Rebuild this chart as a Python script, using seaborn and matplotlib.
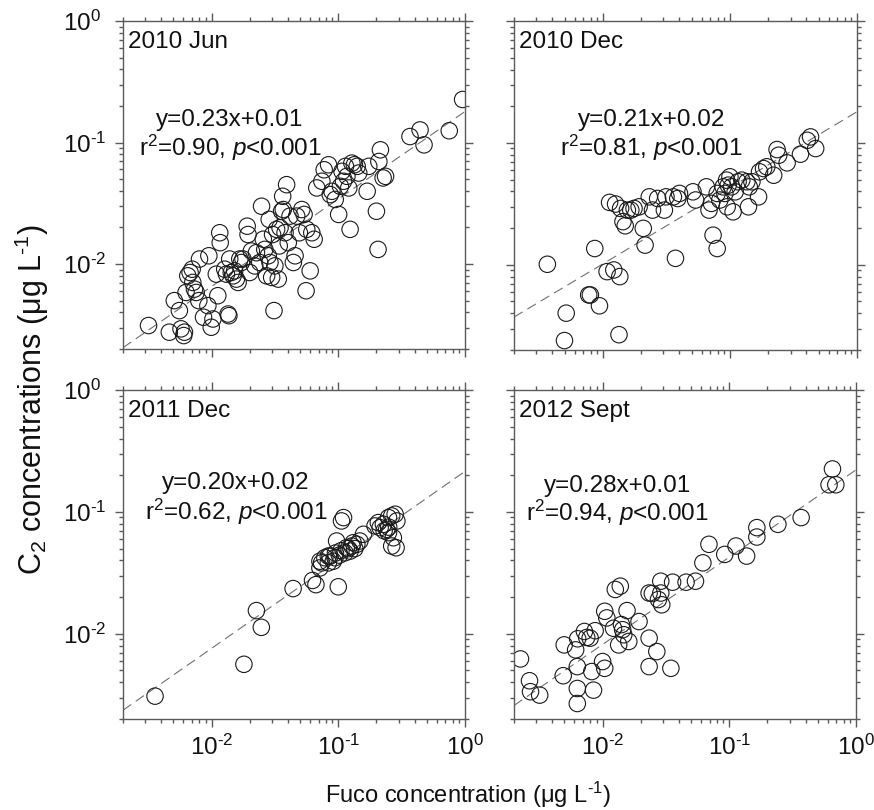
import numpy as np
import pandas as pd
import matplotlib
matplotlib.use("Agg")
import matplotlib.pyplot as plt
import matplotlib.ticker as mticker
import seaborn as sns

# ---------------- data ----------------
panel_titles = ["2010 Jun", "2010 Dec", "2011 Dec", "2012 Sept"]
eq_lines = ["y=0.23x+0.01", "y=0.21x+0.02", "y=0.20x+0.02", "y=0.28x+0.01"]
r2_vals = ["0.90", "0.81", "0.62", "0.94"]

jun10_fuco = [0.00318, 0.00464, 0.00508, 0.00557, 0.00574, 0.00603, 0.00611, 0.00629, 0.00649, 0.00677,
              0.00703, 0.00711, 0.00733, 0.00756, 0.00793, 0.00803, 0.00864, 0.00935, 0.00952, 0.00994,
              0.01025, 0.0109, 0.0112, 0.0116, 0.0117, 0.0127, 0.0131, 0.0135, 0.0137, 0.0139,
              0.0143, 0.0148, 0.0152, 0.0157, 0.0162, 0.0167, 0.0172, 0.0177, 0.0191, 0.0194,
              0.0200, 0.0206, 0.0219, 0.0226, 0.0240, 0.0248, 0.0256, 0.0263, 0.0272, 0.0280,
              0.0285, 0.0289, 0.0298, 0.0303, 0.0311, 0.0316, 0.0326, 0.0336, 0.0342, 0.0347,
              0.0357, 0.0364, 0.0368, 0.0380, 0.0391, 0.0403, 0.0416, 0.0442, 0.0456, 0.0470,
              0.0493, 0.0515, 0.0537, 0.0557, 0.0564, 0.0600, 0.0618, 0.0645, 0.0677, 0.0742,
              0.0774, 0.0838, 0.0864, 0.0891, 0.0946, 0.1007, 0.104, 0.107, 0.110, 0.114,
              0.117, 0.121, 0.124, 0.128, 0.134, 0.141, 0.145, 0.169, 0.174, 0.200,
              0.206, 0.209, 0.215, 0.226, 0.236, 0.368, 0.442, 0.475, 0.751, 0.958]
jun10_c2 = [0.00312, 0.00275, 0.00500, 0.00414, 0.00293, 0.00258, 0.00275, 0.00584, 0.00800, 0.00852,
            0.00907, 0.00706, 0.00622, 0.00584, 0.00500, 0.0110, 0.00365, 0.00455, 0.0117, 0.00302,
            0.00353, 0.00826, 0.00549, 0.0181, 0.0150, 0.00907, 0.00826, 0.00388, 0.00376, 0.0110,
            0.00852, 0.00800, 0.00879, 0.00752, 0.00706, 0.0110, 0.0103, 0.0110, 0.0205, 0.0175,
            0.00852, 0.0128, 0.00966, 0.0124, 0.0103, 0.0299, 0.0160, 0.0132, 0.00800, 0.0117,
            0.0233, 0.0103, 0.00776, 0.0175, 0.00414, 0.00966, 0.0193, 0.00752, 0.0141, 0.0199,
            0.0272, 0.0361, 0.0281, 0.0181, 0.0450, 0.0150, 0.0248, 0.0103, 0.0117, 0.0248,
            0.0181, 0.0281, 0.0256, 0.00603, 0.0193, 0.00879, 0.0181, 0.0160, 0.0423, 0.0480,
            0.0597, 0.0656, 0.0373, 0.0397, 0.0340, 0.0256, 0.0436, 0.0579, 0.0480, 0.0637,
            0.0527, 0.0423, 0.0193, 0.0677, 0.0656, 0.0637, 0.0561, 0.0397, 0.0637, 0.0272,
            0.0132, 0.0698, 0.0871, 0.0511, 0.0527, 0.112, 0.127, 0.0957, 0.125, 0.226]

dec10_fuco = [0.00366, 0.00499, 0.00515, 0.00774, 0.00798, 0.00864, 0.00941, 0.0108, 0.0113, 0.0122,
              0.0126, 0.0134, 0.0136, 0.0138, 0.0144, 0.0150, 0.0156, 0.0166, 0.0176, 0.0193,
              0.0208, 0.0215, 0.0232, 0.0246, 0.0270, 0.0305, 0.0314, 0.0359, 0.0373, 0.0389,
              0.0401, 0.0512, 0.0537, 0.0653, 0.0685, 0.0715, 0.0737, 0.0794, 0.0794, 0.0833,
              0.0885, 0.0913, 0.0941, 0.0952, 0.0970, 0.100, 0.103, 0.106, 0.110, 0.116,
              0.124, 0.136, 0.140, 0.142, 0.149, 0.168, 0.171, 0.184, 0.195, 0.221,
              0.235, 0.242, 0.282, 0.359, 0.406, 0.431, 0.473]
dec10_c2 = [0.0101, 0.00239, 0.00401, 0.00566, 0.00566, 0.0136, 0.00461, 0.00879, 0.0325, 0.00907,
            0.0315, 0.00267, 0.00800, 0.0290, 0.0226, 0.0209, 0.0281, 0.0281, 0.0290, 0.0299,
            0.0199, 0.0145, 0.0361, 0.0281, 0.0350, 0.0281, 0.0361, 0.0361, 0.0113, 0.0350,
            0.0385, 0.0397, 0.0340, 0.0436, 0.0281, 0.0319, 0.0175, 0.0136, 0.0385, 0.0340,
            0.0436, 0.0385, 0.0495, 0.0299, 0.0450, 0.0527, 0.0436, 0.0272, 0.0397, 0.0480,
            0.0495, 0.0480, 0.0299, 0.0436, 0.0480, 0.0361, 0.0579, 0.0616, 0.0637, 0.0543,
            0.0882, 0.0792, 0.0686, 0.0808, 0.105, 0.112, 0.0899]

dec11_fuco = [0.00358, 0.0180, 0.0226, 0.0247, 0.0440, 0.0626, 0.0666, 0.0716, 0.0716, 0.0738,
              0.0784, 0.0834, 0.0834, 0.0859, 0.0913, 0.0941, 0.0970, 0.100, 0.102, 0.106,
              0.110, 0.113, 0.116, 0.124, 0.128, 0.131, 0.140, 0.148, 0.158, 0.195,
              0.207, 0.214, 0.227, 0.241, 0.249, 0.264, 0.281, 0.290, 0.272, 0.264,
              0.286, 0.249, 0.095, 0.105, 0.120, 0.135, 0.230, 0.250]
dec11_c2 = [0.00308, 0.00562, 0.0155, 0.0113, 0.0235, 0.0274, 0.0253, 0.0347, 0.0394, 0.0382,
            0.0421, 0.0382, 0.0434, 0.0434, 0.0394, 0.0421, 0.0577, 0.0243, 0.0442, 0.0843,
            0.0898, 0.0462, 0.0508, 0.0477, 0.0525, 0.0558, 0.0542, 0.0577, 0.0655, 0.0767,
            0.0817, 0.0743, 0.0791, 0.0719, 0.0898, 0.0927, 0.0957, 0.0843, 0.0614, 0.0525,
            0.0508, 0.0676, 0.0460, 0.0480, 0.0500, 0.0500, 0.0700, 0.0750]

sep12_fuco = [0.00225, 0.00265, 0.00270, 0.00319, 0.00498, 0.00489, 0.00613, 0.00636, 0.00632, 0.00632,
              0.00632, 0.00719, 0.00750, 0.00798, 0.00822, 0.00848, 0.00874, 0.0100, 0.0104, 0.0104,
              0.0108, 0.0122, 0.0126, 0.0134, 0.0138, 0.0141, 0.0144, 0.0147, 0.0156, 0.0161,
              0.0194, 0.0233, 0.0233, 0.0233, 0.0247, 0.0268, 0.0276, 0.0288, 0.0293, 0.0288,
              0.0346, 0.0357, 0.0456, 0.0541, 0.0619, 0.0691, 0.0921, 0.113, 0.137, 0.165,
              0.165, 0.242, 0.369, 0.613, 0.652, 0.693]
sep12_c2 = [0.00622, 0.00412, 0.00335, 0.00314, 0.00811, 0.00453, 0.00738, 0.00910, 0.00538, 0.00356,
            0.00268, 0.01045, 0.00933, 0.00921, 0.00490, 0.00345, 0.0106, 0.00592, 0.00521, 0.0153,
            0.0135, 0.0111, 0.0231, 0.00811, 0.0246, 0.0119, 0.0108, 0.00982, 0.0155, 0.00865,
            0.0126, 0.00921, 0.00538, 0.0216, 0.0214, 0.00715, 0.0191, 0.0216, 0.0173, 0.0270,
            0.00521, 0.0265, 0.0265, 0.0270, 0.0382, 0.0542, 0.0448, 0.0525, 0.0434, 0.0743,
            0.0622, 0.0791, 0.0898, 0.167, 0.225, 0.167]

# fitted lines as drawn (power form on the log-log axes): y = a * x**b
fit_a = [0.18, 0.18, 0.215, 0.221]
fit_b = [0.72, 0.624, 0.726, 0.716]

fuco_sets = [jun10_fuco, dec10_fuco, dec11_fuco, sep12_fuco]
c2_sets = [jun10_c2, dec10_c2, dec11_c2, sep12_c2]

# ---------------- style ----------------
sns.set_style("ticks")
plt.rcParams['font.family'] = ['Liberation Sans', 'DejaVu Sans']
plt.rcParams['mathtext.fontset'] = 'custom'
plt.rcParams['mathtext.rm'] = 'Liberation Sans'
plt.rcParams['mathtext.it'] = 'Liberation Sans:italic'
plt.rcParams['mathtext.default'] = 'regular'

spine_col = "#5a5a5a"
txt_col = "#111111"
W, H = 874, 810
fig = plt.figure(figsize=(W / 100, H / 100), dpi=100)

boxes = [(123, 21, 342, 328), (514, 21, 343, 329), (123, 390, 342, 329), (514, 390, 342, 329)]
text_x = [0.313, 0.40, 0.33, 0.303]
text_y = [(0.698, 0.613), (0.698, 0.613), (0.717, 0.629), (0.708, 0.626)]

def log_fmt(v, pos):
    e = int(round(np.log10(v)))
    if e < 0:
        return r"$10^{\text{-}%d}$" % (-e)
    return r"$10^{%d}$" % e

xline = np.logspace(np.log10(0.002), 0, 50)
tick_len = 5.5  # points

for i, (l, t, w, h) in enumerate(boxes):
    ax = fig.add_axes([l / W, 1 - (t + h) / H, w / W, h / H])
    df = pd.DataFrame({"fuco": fuco_sets[i], "c2": c2_sets[i]})
    ax.plot(xline, fit_a[i] * xline ** fit_b[i], color="#707070", lw=0.8,
            dashes=(9, 5), zorder=1)
    sns.scatterplot(data=df, x="fuco", y="c2", ax=ax, s=140, marker="o",
                    facecolor="none", edgecolor="#1a1a1a", linewidth=0.8, zorder=2)
    ax.set_xscale("log")
    ax.set_yscale("log")
    ax.set_xlim(0.002, 1)
    ax.set_ylim(0.002, 1)
    ax.set_xlabel("")
    ax.set_ylabel("")
    for sp in ax.spines.values():
        sp.set_visible(True)
        sp.set_color(spine_col)
        sp.set_linewidth(1.0)
    ax.xaxis.set_major_locator(mticker.LogLocator(base=10, numticks=10))
    ax.yaxis.set_major_locator(mticker.LogLocator(base=10, numticks=10))
    ax.xaxis.set_minor_locator(mticker.LogLocator(base=10, subs=np.arange(2, 10), numticks=10))
    ax.yaxis.set_minor_locator(mticker.LogLocator(base=10, subs=np.arange(2, 10), numticks=10))
    ax.xaxis.set_minor_formatter(mticker.NullFormatter())
    ax.yaxis.set_minor_formatter(mticker.NullFormatter())
    ax.xaxis.set_major_formatter(mticker.FuncFormatter(log_fmt))
    ax.yaxis.set_major_formatter(mticker.FuncFormatter(log_fmt))
    ax.tick_params(which="both", direction="out", top=True, right=True,
                   color=spine_col, width=1.0, labelsize=17.5, labelcolor=txt_col)
    ax.tick_params(which="major", length=tick_len)
    ax.tick_params(which="minor", length=2.8)
    ax.tick_params(axis="x", which="major", pad=6)
    # y tick labels left-aligned at a common x (~58 px left of the axis)
    ax.tick_params(axis="y", which="major", pad=60 * 0.72 - tick_len)
    for lab in ax.get_yticklabels():
        lab.set_horizontalalignment("left")
    if i in (0, 1):
        ax.tick_params(labelbottom=False)
    if i in (1, 3):
        ax.tick_params(labelleft=False)

    ax.text(0.015, 0.935, panel_titles[i], transform=ax.transAxes, fontsize=17.5,
            ha="left", va="center", color=txt_col)
    ax.text(text_x[i], text_y[i][0], eq_lines[i], transform=ax.transAxes,
            fontsize=17.5, ha="center", va="center", color=txt_col)
    ax.text(text_x[i], text_y[i][1], r"r$^{2}$=" + r2_vals[i] + r", $\mathit{p}$<0.001",
            transform=ax.transAxes, fontsize=17.5, ha="center", va="center", color=txt_col)

fig.text(32 / W, 1 - 400 / H, r"C$_{2}$ concentrations (μg L$^{\text{-}1}$)", rotation=90,
         ha="center", va="center", fontsize=22, color=txt_col)
fig.text(468 / W, 1 - 795 / H, r"Fuco concentration (μg L$^{\text{-}1}$)",
         ha="center", va="center", fontsize=17, color=txt_col)

fig.savefig("out.png", dpi=100)
